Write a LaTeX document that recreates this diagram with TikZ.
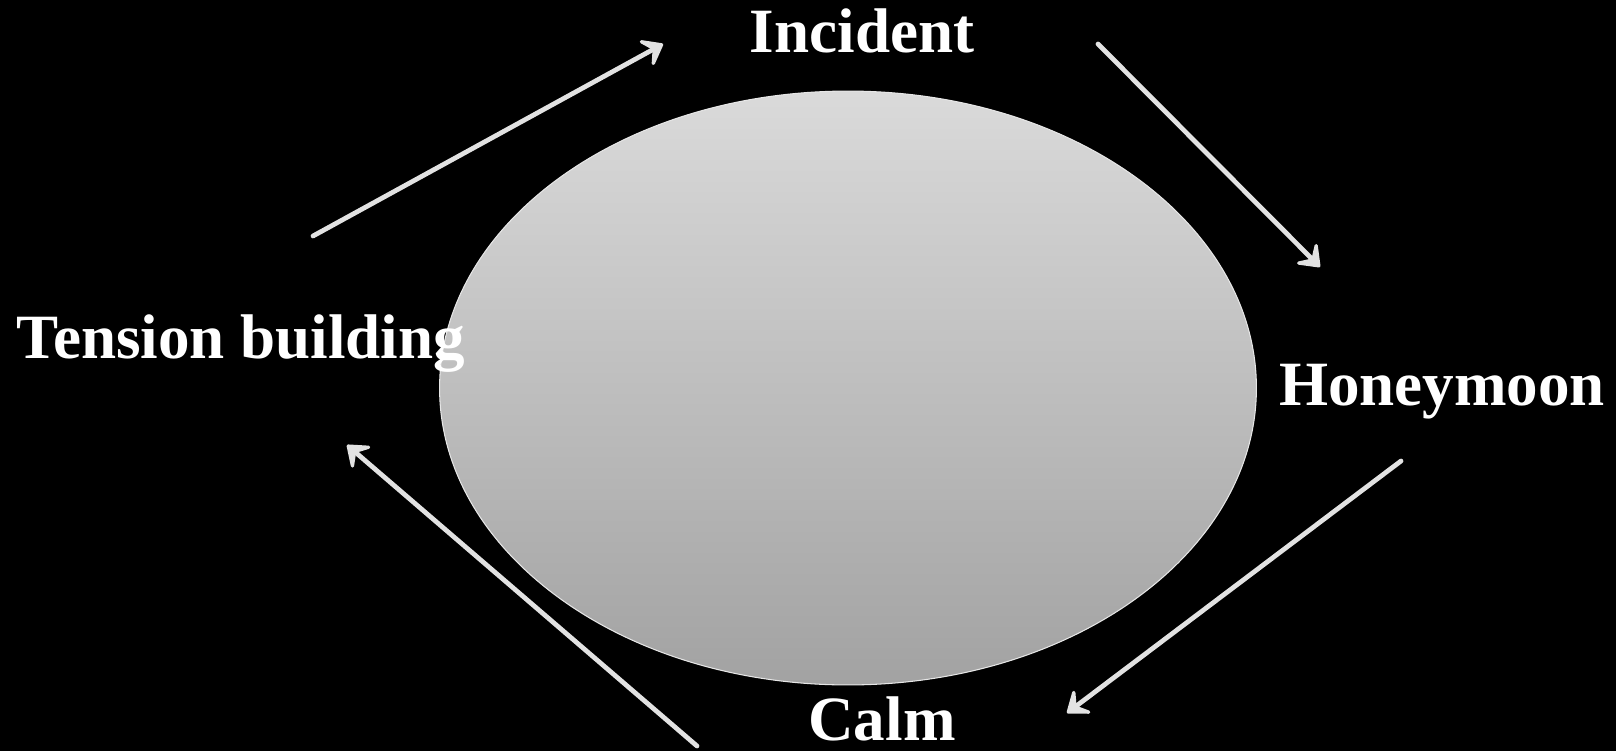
\documentclass[tikz,border=0pt]{standalone}
\usepackage{fontspec}
\setmainfont{Liberation Serif}
\usetikzlibrary{arrows.meta,positioning,shapes.geometric}
\definecolor{slidebg}{HTML}{000000}
\definecolor{ovaltop}{HTML}{DADADA}
\definecolor{ovalbot}{HTML}{A2A2A2}
\definecolor{ovalrim}{HTML}{E6E6E6}
\definecolor{arrgray}{HTML}{E2E2E2}
\tikzset{
  stagelabel/.style={text=white, inner sep=0pt, anchor=base,
                     font=\fontsize{35.9}{40}\selectfont\bfseries},
  ovalbox/.style={ellipse, draw=ovalrim, line width=0.6pt, top color=ovaltop,
                  bottom color=ovalbot, inner sep=0pt, outer sep=0pt},
  arr/.style={-{Stealth[length=5mm, width=7.6mm, inset=2.4mm, round]},
              line width=2.7pt, line cap=round, color=arrgray}}

\begin{document}
\begin{tikzpicture}[x=0.02cm, y=-0.02cm]
    \fill[slidebg] (0,0) rectangle (1616,751);
    \useasboundingbox (0,0) rectangle (1616,751);
    \node[ovalbox, minimum width=16.34cm, minimum height=11.88cm] (cycle) at (848,388) {};
    \node[stagelabel] (incident) at (862,52) {Incident};
    \node[stagelabel] (honeymoon) at (1442,405) {Honeymoon};
    \node[stagelabel] (calm) at (882,740) {Calm};
    \node[stagelabel] (tension) at (241,358) {Tension building};
    % arrow ends
    \coordinate (t1) at (313,236);  \coordinate (i1) at (663,44);
    \coordinate (i2) at (1098,44);  \coordinate (h1) at (1320,267);
    \coordinate (h2) at (1401,461); \coordinate (c1) at (1067,713);
    \coordinate (c2) at (697,746);  \coordinate (t2) at (347,445);
    \draw[arr] (t1) -- (i1);
    \draw[arr] (i2) -- (h1);
    \draw[arr] (h2) -- (c1);
    \draw[arr] (c2) -- (t2);
\end{tikzpicture}
\end{document}
